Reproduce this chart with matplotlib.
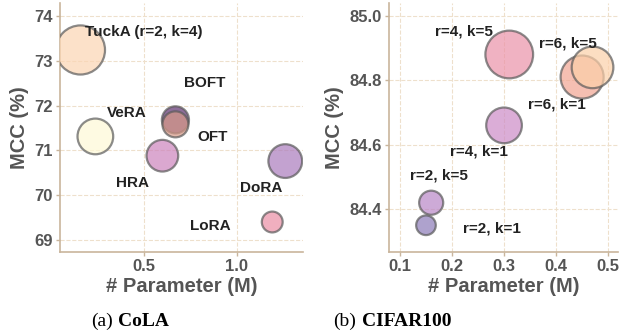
import matplotlib
matplotlib.use("Agg")
import matplotlib.pyplot as plt

# ---- data: CoLA ----
cola_methods = ["TuckA (r=2, k=4)", "VeRA", "HRA", "DoRA", "LoRA", "BOFT", "OFT"]
cola_params = [0.16, 0.24, 0.60, 1.26, 1.19, 0.67, 0.67]
cola_mcc = [73.24, 71.31, 70.88, 70.76, 69.40, 71.68, 71.58]
cola_sizes = [1250, 660, 520, 590, 225, 380, 350]
cola_colors = ["#fcd5b3", "#fef9d6", "#cc83bc", "#aa7bbd", "#eb8ea5", "#5e3070", "#d89a88"]
cola_label_xy = [(0.183, 73.64), (0.407, 71.83), (0.437, 70.28), (1.133, 70.16),
                 (0.855, 69.30), (0.828, 72.51), (0.867, 71.29)]
cola_label_ha = ["left", "center", "center", "center", "center", "center", "center"]

# ---- data: CIFAR100 ----
cif_labels = ["r=4, k=5", "r=6, k=1", "r=6, k=5", "r=4, k=1", "r=2, k=5", "r=2, k=1"]
cif_params = [0.31, 0.45, 0.47, 0.30, 0.16, 0.15]
cif_acc = [84.88, 84.81, 84.84, 84.66, 84.42, 84.35]
cif_sizes = [1180, 960, 900, 660, 300, 200]
cif_colors = ["#eb92a8", "#f2a592", "#fcd0a9", "#cc8bc6", "#b986c7", "#8c7bb9"]
cif_label_xy = [(0.223, 84.950), (0.401, 84.724), (0.423, 84.915),
                (0.252, 84.579), (0.174, 84.503), (0.276, 84.340)]

plt.rcParams["font.family"] = ["Liberation Sans", "DejaVu Sans"]

fig = plt.figure(figsize=(6.3, 3.33), dpi=100)
ax1 = fig.add_axes([0.0952, 0.2432, 0.3857, 0.748])
ax2 = fig.add_axes([0.6175, 0.2432, 0.3635, 0.748])

spine_c = "#c9b59c"
grid_c = "#eee0cc"
tick_c = "#555555"


def style(ax):
    for s in ["top", "right"]:
        ax.spines[s].set_visible(False)
    for s in ["left", "bottom"]:
        ax.spines[s].set_color(spine_c)
        ax.spines[s].set_linewidth(1.2)
    ax.grid(True, linestyle="--", color=grid_c, linewidth=0.8)
    ax.set_axisbelow(True)
    ax.tick_params(colors=spine_c, length=3, width=1, labelsize=12,
                   labelcolor=tick_c, pad=2)
    for lab in ax.get_xticklabels() + ax.get_yticklabels():
        lab.set_fontweight("bold")
    ax.set_xlabel("# Parameter (M)", fontsize=14.5, fontweight="bold", color=tick_c, labelpad=2)
    ax.set_ylabel("MCC (%)", fontsize=14.5, fontweight="bold", color=tick_c, labelpad=4)


# CoLA
ax1.scatter(cola_params, cola_mcc, s=cola_sizes, c=cola_colors, alpha=0.7,
            edgecolors="#5a5a5a", linewidths=1.6, zorder=3)
for lab, (x, y), ha in zip(cola_methods, cola_label_xy, cola_label_ha):
    ax1.text(x, y, lab, ha=ha, va="center", fontsize=11, fontweight="bold",
             color="#222222", zorder=4)
ax1.set_xlim(0.05, 1.355)
ax1.set_ylim(68.73, 74.29)
ax1.set_xticks([0.5, 1.0])
ax1.set_xticklabels(["0.5", "1.0"])
ax1.set_yticks([69, 70, 71, 72, 73, 74])
style(ax1)

# CIFAR100
ax2.scatter(cif_params, cif_acc, s=cif_sizes, c=cif_colors, alpha=0.7,
            edgecolors="#5a5a5a", linewidths=1.6, zorder=3)
for lab, (x, y) in zip(cif_labels, cif_label_xy):
    ax2.text(x, y, lab, ha="center", va="center", fontsize=11, fontweight="bold",
             color="#222222", zorder=4)
ax2.set_xlim(0.079, 0.519)
ax2.set_ylim(84.267, 85.04)
ax2.set_xticks([0.1, 0.2, 0.3, 0.4, 0.5])
ax2.set_xticklabels(["0.1", "0.2", "0.3", "0.4", "0.5"])
ax2.set_yticks([84.4, 84.6, 84.8, 85.0])
ax2.set_yticklabels(["84.4", "84.6", "84.8", "85.0"])
style(ax2)

# captions
serif = ["Liberation Serif", "DejaVu Serif"]
for xpos, tag, name in [(0.144, "(a)", "CoLA"), (0.529, "(b)", "CIFAR100")]:
    t = fig.text(xpos, 0.021, tag, family=serif, fontsize=14, va="baseline", ha="left")
    fig.get_figure().text  # noqa
    ann = plt.annotate(name, xy=(1, 0), xycoords=t, xytext=(4, 0),
                       textcoords="offset points", family=serif, fontsize=14,
                       fontweight="bold", va="bottom", ha="left",
                       annotation_clip=False)

fig.savefig("out.png", dpi=100)
